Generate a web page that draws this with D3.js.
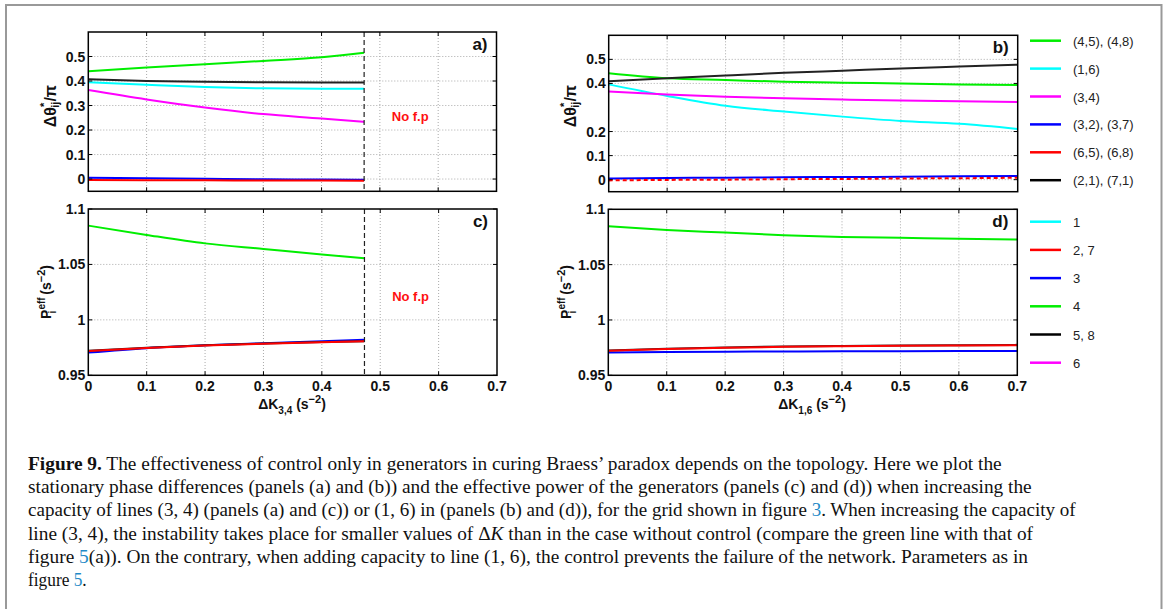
<!DOCTYPE html>
<html>
<head>
<meta charset="utf-8">
<script src="https://cdn.jsdelivr.net/npm/d3@7"></script>
<style>
  body { margin: 0; background: #fff; }
  svg { display: block; }
  .tick-label { font-family: "Liberation Sans", Arial, sans-serif; font-weight: bold; font-size: 14px; fill: #111; }
  .axis-title { font-family: "Liberation Sans", Arial, sans-serif; font-weight: bold; font-size: 14px; fill: #111; }
  .legend-text { font-family: "Liberation Sans", Arial, sans-serif; font-size: 13px; fill: #222; }
  .caption { font-family: "Liberation Serif", "Times New Roman", serif; font-size: 18px; fill: #111; }
</style>
</head>
<body>
<div class="chart"></div>
<script>
// x values for the left panels (stop at the fixed point loss) and right panels
var xLeft = [0, 0.1, 0.2, 0.3, 0.4, 0.473];
var xRight = [0, 0.1, 0.2, 0.3, 0.4, 0.5, 0.6, 0.7];

// panel a) phase differences vs dK(3,4)
var aGreen   = [0.440, 0.455, 0.468, 0.482, 0.497, 0.515];
var aCyan    = [0.395, 0.385, 0.376, 0.370, 0.368, 0.368];
var aMagenta = [0.363, 0.325, 0.292, 0.265, 0.247, 0.233];
var aBlue    = [0.005, 0.003, 0.001, -0.001, -0.002, -0.003];
var aRed     = [-0.004, -0.005, -0.005, -0.006, -0.006, -0.007];
var aBlack   = [0.407, 0.400, 0.397, 0.395, 0.394, 0.394];

// panel b) phase differences vs dK(1,6)
var bGreen   = [0.442, 0.421, 0.414, 0.407, 0.403, 0.400, 0.396, 0.393];
var bCyan    = [0.396, 0.348, 0.307, 0.283, 0.262, 0.244, 0.232, 0.211];
var bMagenta = [0.366, 0.354, 0.345, 0.338, 0.333, 0.329, 0.326, 0.323];
var bBlue    = [0.005, 0.007, 0.008, 0.010, 0.011, 0.012, 0.014, 0.015];
var bRed     = [-0.003, -0.001, 0.000, 0.002, 0.003, 0.005, 0.006, 0.008];
var bBlack   = [0.409, 0.421, 0.433, 0.444, 0.453, 0.462, 0.470, 0.478];

// panel c) effective power vs dK(3,4)
var cGreen = [1.0850, 1.0766, 1.0690, 1.0640, 1.0590, 1.0555];
var cBlue  = [0.9705, 0.9745, 0.9770, 0.9790, 0.9808, 0.9820];
var cBlack = [0.9722, 0.9748, 0.9770, 0.9787, 0.9800, 0.9808];
var cRed   = [0.9720, 0.9746, 0.9768, 0.9785, 0.9799, 0.9807];

// panel d) effective power vs dK(1,6)
var dGreen = [1.0846, 1.0813, 1.0790, 1.0766, 1.0750, 1.0742, 1.0733, 1.0727];
var dBlue  = [0.9705, 0.9710, 0.9713, 0.9715, 0.9717, 0.9718, 0.9719, 0.9720];
var dBlack = [0.9725, 0.9740, 0.9752, 0.9760, 0.9765, 0.9769, 0.9772, 0.9775];
var dRed   = [0.9722, 0.9737, 0.9749, 0.9757, 0.9762, 0.9766, 0.9769, 0.9772];

var xTicks = [0, 0.1, 0.2, 0.3, 0.4, 0.5, 0.6, 0.7];
var thetaTicksA = [0, 0.1, 0.2, 0.3, 0.4, 0.5];
var thetaTicksB = [0, 0.1, 0.2, 0.4, 0.5];
var powerTicks = [0.95, 1, 1.05, 1.1];
var noFixedPointX = 0.473;

var legendTop = ["(4,5), (4,8)", "(1,6)", "(3,4)", "(3,2), (3,7)", "(6,5), (6,8)", "(2,1), (7,1)"];
var legendTopColors = ["#00ee00", "#00ffff", "#ff00ff", "#0000ff", "#ff0000", "#000000"];
var legendBottom = ["1", "2, 7", "3", "4", "5, 8", "6"];
var legendBottomColors = ["#00ffff", "#ff0000", "#0000ff", "#00ee00", "#000000", "#ff00ff"];

var width = 1165, height = 609;

var svg = d3.select(".chart").append("svg")
    .attr("width", width)
    .attr("height", height);

// page frame
svg.append("rect")
    .attr("x", 6).attr("y", 5)
    .attr("width", 1155.5).attr("height", 640)
    .attr("fill", "none")
    .attr("stroke", "#999")
    .attr("stroke-width", 2);

function drawPanel(p) {
    var x = d3.scaleLinear().domain([0, 0.7]).range([p.left, p.right]);
    var y = d3.scaleLinear().domain(p.yDomain).range([p.bottom, p.top]);
    var g = svg.append("g");

    // dotted grid
    g.selectAll(".vgrid").data(xTicks.slice(1, -1)).enter().append("line")
        .attr("x1", function(d) { return x(d); }).attr("x2", function(d) { return x(d); })
        .attr("y1", p.top).attr("y2", p.bottom)
        .attr("stroke", "#aaa").attr("stroke-width", 1).attr("stroke-dasharray", "1,2");
    g.selectAll(".hgrid").data(p.yTicks.filter(function(t) { return t > p.yDomain[0] && t < p.yDomain[1]; }))
        .enter().append("line")
        .attr("x1", p.left).attr("x2", p.right)
        .attr("y1", function(d) { return y(d); }).attr("y2", function(d) { return y(d); })
        .attr("stroke", "#aaa").attr("stroke-width", 1).attr("stroke-dasharray", "1,2");

    // lines
    var line = d3.line()
        .x(function(d) { return x(d[0]); })
        .y(function(d) { return y(d[1]); })
        .curve(d3.curveMonotoneX);
    p.series.forEach(function(s) {
        g.append("path")
            .datum(d3.zip(p.xs, s.values))
            .attr("d", line)
            .attr("fill", "none")
            .attr("stroke", s.color)
            .attr("stroke-width", 2)
            .attr("stroke-dasharray", s.dash || null);
    });

    if (p.noFp) {
        g.append("line")
            .attr("x1", x(noFixedPointX)).attr("x2", x(noFixedPointX))
            .attr("y1", p.top).attr("y2", p.bottom)
            .attr("stroke", "#222").attr("stroke-width", 1.2).attr("stroke-dasharray", "5,3");
        g.append("text")
            .attr("x", x(0.552)).attr("y", (p.top + p.bottom) / 2 + 9)
            .attr("text-anchor", "middle")
            .attr("class", "tick-label")
            .style("fill", "#ff1010")
            .style("font-size", "13px")
            .text("No f.p");
    }

    // inward ticks on all sides
    var tl = 4;
    xTicks.slice(1, -1).forEach(function(t) {
        g.append("line").attr("x1", x(t)).attr("x2", x(t)).attr("y1", p.bottom).attr("y2", p.bottom - tl).attr("stroke", "#000");
        g.append("line").attr("x1", x(t)).attr("x2", x(t)).attr("y1", p.top).attr("y2", p.top + tl).attr("stroke", "#000");
    });
    p.yTicks.forEach(function(t) {
        g.append("line").attr("x1", p.left).attr("x2", p.left + tl).attr("y1", y(t)).attr("y2", y(t)).attr("stroke", "#000");
        g.append("line").attr("x1", p.right).attr("x2", p.right - tl).attr("y1", y(t)).attr("y2", y(t)).attr("stroke", "#000");
    });

    g.append("rect")
        .attr("x", p.left).attr("y", p.top)
        .attr("width", p.right - p.left).attr("height", p.bottom - p.top)
        .attr("fill", "none").attr("stroke", "#000").attr("stroke-width", 1.5);

    // tick labels
    g.selectAll(".ylab").data(p.yTicks).enter().append("text")
        .attr("class", "tick-label")
        .attr("x", p.left - 3)
        .attr("y", function(d) { return y(d) + 5; })
        .attr("text-anchor", "end")
        .text(function(d) { return d3.format("")(d); });
    if (p.xLabels) {
        g.selectAll(".xlab").data(xTicks).enter().append("text")
            .attr("class", "tick-label")
            .attr("x", function(d) { return x(d); })
            .attr("y", p.bottom + 16)
            .attr("text-anchor", "middle")
            .text(function(d) { return d3.format("")(d); });
    }

    g.append("text")
        .attr("x", p.right - 9).attr("y", p.top + 18)
        .attr("text-anchor", "end")
        .attr("class", "axis-title")
        .style("font-size", "17px")
        .text(p.label);

    return { x: x, y: y };
}

function thetaTitle(cx, cy) {
    var t = svg.append("text")
        .attr("class", "axis-title")
        .style("font-size", "16px")
        .attr("text-anchor", "middle")
        .attr("transform", "translate(" + cx + "," + cy + ") rotate(-90)");
    t.append("tspan").text("Δθ");
    t.append("tspan").attr("dy", -8).style("font-size", "11px").text("*");
    t.append("tspan").attr("dx", -5).attr("dy", 11).style("font-size", "11px").text("ij");
    t.append("tspan").attr("dy", -3).text("/π");
}

function powerTitle(cx, cy) {
    var t = svg.append("text")
        .attr("class", "axis-title")
        .attr("text-anchor", "middle")
        .attr("transform", "translate(" + cx + "," + cy + ") rotate(-90)");
    t.append("tspan").text("P");
    t.append("tspan").attr("dy", -6).style("font-size", "10px").text("eff");
    t.append("tspan").attr("dx", -16).attr("dy", 11).style("font-size", "10px").text("i");
    t.append("tspan").attr("dx", 12).attr("dy", -5).text(" (s");
    t.append("tspan").attr("dy", -6).style("font-size", "11px").text("−2");
    t.append("tspan").attr("dy", 6).text(")");
}

function kTitle(cx, baseline, sub) {
    var t = svg.append("text")
        .attr("class", "axis-title")
        .attr("text-anchor", "middle")
        .attr("x", cx).attr("y", baseline);
    t.append("tspan").text("ΔK");
    t.append("tspan").attr("dy", 5).style("font-size", "10px").text(sub);
    t.append("tspan").attr("dy", -5).text(" (s");
    t.append("tspan").attr("dy", -6).style("font-size", "11px").text("−2");
    t.append("tspan").attr("dy", 6).text(")");
}

drawPanel({
    left: 88.3, right: 496.5, top: 32, bottom: 191.3,
    yDomain: [-0.05, 0.6], yTicks: thetaTicksA, xs: xLeft, label: "a)", noFp: true,
    series: [
        { values: aGreen, color: "#00ee00" },
        { values: aMagenta, color: "#ff00ff" },
        { values: aCyan, color: "#00ffff" },
        { values: aBlack, color: "#222" },
        { values: aBlue, color: "#0000ff" },
        { values: aRed, color: "#ff0000" }
    ]
});
drawPanel({
    left: 608.7, right: 1017.7, top: 35.3, bottom: 191.7,
    yDomain: [-0.05, 0.6], yTicks: thetaTicksB, xs: xRight, label: "b)",
    series: [
        { values: bCyan, color: "#00ffff" },
        { values: bMagenta, color: "#ff00ff" },
        { values: bGreen, color: "#00ee00" },
        { values: bBlack, color: "#222" },
        { values: bBlue, color: "#0000ff" },
        { values: bRed, color: "#ff0000", dash: "4,3" }
    ]
});
drawPanel({
    left: 88.3, right: 497, top: 209, bottom: 375.3,
    yDomain: [0.95, 1.1], yTicks: powerTicks, xs: xLeft, label: "c)", noFp: true, xLabels: true,
    series: [
        { values: cGreen, color: "#00ee00" },
        { values: cBlue, color: "#0000ff" },
        { values: cBlack, color: "#222" },
        { values: cRed, color: "#ff0000" }
    ]
});
drawPanel({
    left: 608.3, right: 1017.3, top: 209.3, bottom: 375.3,
    yDomain: [0.95, 1.1], yTicks: powerTicks, xs: xRight, label: "d)", xLabels: true,
    series: [
        { values: dGreen, color: "#00ee00" },
        { values: dBlue, color: "#0000ff" },
        { values: dBlack, color: "#222" },
        { values: dRed, color: "#ff0000" }
    ]
});

thetaTitle(56, 106);
thetaTitle(576, 106);
powerTitle(51, 292);
powerTitle(571, 292);
kTitle(292, 409, "3,4");
kTitle(812, 409, "1,6");

// legends
function legend(items, colors, y0, step) {
    var g = svg.append("g");
    items.forEach(function(name, i) {
        var yy = y0 + i * step;
        g.append("line").attr("x1", 1030).attr("x2", 1061).attr("y1", yy).attr("y2", yy)
            .attr("stroke", colors[i]).attr("stroke-width", 2.5);
        g.append("text").attr("class", "legend-text").attr("x", 1073).attr("y", yy + 5).text(name);
    });
}
legend(legendTop, legendTopColors, 40.7, 27.9);
legend(legendBottom, legendBottomColors, 221.7, 28.2);

// caption
var link = "#1f8ac7";
var captionLines = [
    { w: 973.7, parts: [["Figure 9.", "b"], [" The effectiveness of control only in generators in curing Braess’ paradox depends on the topology. Here we plot the"]] },
    { w: 1003.7, parts: [["stationary phase differences (panels (a) and (b)) and the effective power of the generators (panels (c) and (d)) when increasing the"]] },
    { w: 1047.7, parts: [["capacity of lines (3, 4) (panels (a) and (c)) or (1, 6) in (panels (b) and (d)), for the grid shown in figure "], ["3", "l"], [". When increasing the capacity of"]] },
    { w: 1005, parts: [["line (3, 4), the instability takes place for smaller values of Δ"], ["K", "i"], [" than in the case without control (compare the green line with that of"]] },
    { w: 1000, parts: [["figure "], ["5", "l"], ["(a)). On the contrary, when adding capacity to line (1, 6), the control prevents the failure of the network. Parameters as in"]] },
    { w: 58.7, parts: [["figure "], ["5", "l"], ["."]] }
];
captionLines.forEach(function(ln, i) {
    var t = svg.append("text").attr("class", "caption")
        .attr("x", 28).attr("y", 470 + i * 23.2)
        .attr("textLength", ln.w).attr("lengthAdjust", "spacingAndGlyphs");
    ln.parts.forEach(function(p) {
        var s = t.append("tspan").text(p[0]);
        if (p[1] === "b") s.style("font-weight", "bold");
        if (p[1] === "i") s.style("font-style", "italic");
        if (p[1] === "l") s.style("fill", link);
    });
});
</script>
</body>
</html>
